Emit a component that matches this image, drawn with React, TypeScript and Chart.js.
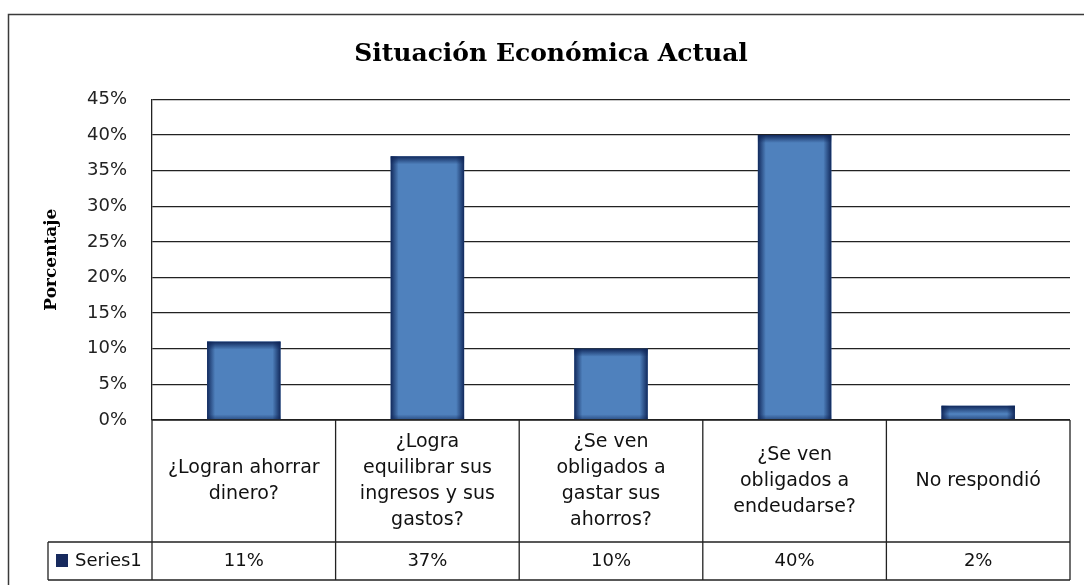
import React, { useEffect, useRef } from "react";
import { Chart, registerables } from "chart.js";

Chart.register(...registerables);

// ---- data ----
const chartTitle = "Situación Económica Actual";
const axisTitle = "Porcentaje";
const seriesName = "Series1";
const categories: string[][] = [
  ["¿Logran ahorrar", "dinero?"],
  ["¿Logra", "equilibrar sus", "ingresos y sus", "gastos?"],
  ["¿Se ven", "obligados a", "gastar sus", "ahorros?"],
  ["¿Se ven", "obligados a", "endeudarse?"],
  ["No respondió"],
];
const values: number[] = [11, 37, 10, 40, 2];
const yMin = 0;
const yMax = 45;
const yStep = 5;

const SANS = "'DejaVu Sans', sans-serif";
const SERIF = "'DejaVu Serif', serif";
const LINE = "#222222";

const framePlugin = {
  id: "outerFrame",
  beforeDraw(chart: any) {
    const ctx = chart.ctx;
    ctx.save();
    ctx.fillStyle = "#ffffff";
    ctx.fillRect(0, 0, chart.width, chart.height);
    ctx.strokeStyle = "#3a3a3a";
    ctx.lineWidth = 1.5;
    ctx.beginPath();
    ctx.moveTo(8.5, chart.height + 10);
    ctx.lineTo(8.5, 14.5);
    ctx.lineTo(chart.width + 10, 14.5);
    ctx.stroke();
    ctx.restore();
  },
};

const barShadePlugin = {
  id: "barShade",
  afterDatasetsDraw(chart: any) {
    const ctx = chart.ctx;
    const meta = chart.getDatasetMeta(0);
    const dark = "14,36,86";
    ctx.save();
    meta.data.forEach((el: any) => {
      const p = el.getProps(["x", "y", "base", "width"], true);
      const left = p.x - p.width / 2;
      const right = p.x + p.width / 2;
      const top = Math.min(p.y, p.base);
      const bottom = Math.max(p.y, p.base);
      const h = bottom - top;
      const g = 8;
      let grd = ctx.createLinearGradient(left, 0, left + g, 0);
      grd.addColorStop(0, `rgba(${dark},0.95)`);
      grd.addColorStop(1, `rgba(${dark},0)`);
      ctx.fillStyle = grd;
      ctx.fillRect(left, top, g, h);
      grd = ctx.createLinearGradient(right, 0, right - g, 0);
      grd.addColorStop(0, `rgba(${dark},0.95)`);
      grd.addColorStop(1, `rgba(${dark},0)`);
      ctx.fillStyle = grd;
      ctx.fillRect(right - g, top, g, h);
      grd = ctx.createLinearGradient(0, top, 0, top + g);
      grd.addColorStop(0, `rgba(${dark},0.95)`);
      grd.addColorStop(1, `rgba(${dark},0)`);
      ctx.fillStyle = grd;
      ctx.fillRect(left, top, p.width, Math.min(g, h));
      grd = ctx.createLinearGradient(0, bottom, 0, bottom - 5);
      grd.addColorStop(0, `rgba(${dark},0.5)`);
      grd.addColorStop(1, `rgba(${dark},0)`);
      ctx.fillStyle = grd;
      ctx.fillRect(left, Math.max(top, bottom - 5), p.width, Math.min(5, h));
    });
    ctx.restore();
  },
};

const dataTablePlugin = {
  id: "dataTable",
  afterDraw(chart: any) {
    const ctx = chart.ctx;
    const area = chart.chartArea;
    const xs = chart.scales.x;
    const n = categories.length;
    const cw = (area.right - area.left) / n;
    const top = area.bottom;
    const mid = top + 122;
    const bottom = top + 160;
    const labelLeft = 48;
    ctx.save();
    ctx.strokeStyle = LINE;
    ctx.lineWidth = 1.3;
    ctx.beginPath();
    // horizontal lines
    ctx.moveTo(area.left, top);
    ctx.lineTo(area.right, top);
    ctx.moveTo(labelLeft, mid);
    ctx.lineTo(area.right, mid);
    ctx.moveTo(labelLeft, bottom);
    ctx.lineTo(area.right, bottom);
    // vertical lines
    ctx.moveTo(labelLeft, mid);
    ctx.lineTo(labelLeft, bottom);
    for (let i = 0; i <= n; i++) {
      const x = area.left + i * cw;
      ctx.moveTo(x, top);
      ctx.lineTo(x, bottom);
    }
    ctx.stroke();

    ctx.fillStyle = "#111111";
    ctx.textAlign = "center";
    ctx.textBaseline = "middle";
    const lh = 26;
    ctx.font = `19px ${SANS}`;
    categories.forEach((lines, i) => {
      const cx = xs.getPixelForValue(i);
      const cy = (top + mid) / 2;
      const y0 = cy - ((lines.length - 1) * lh) / 2;
      lines.forEach((ln, j) => ctx.fillText(ln, cx, y0 + j * lh));
    });
    ctx.font = `18px ${SANS}`;
    const rowY = (mid + bottom) / 2;
    values.forEach((v, i) => {
      ctx.fillText(`${v}%`, xs.getPixelForValue(i), rowY);
    });
    // legend key + series name
    ctx.fillStyle = "#172a5e";
    ctx.fillRect(labelLeft + 8, rowY - 7, 12, 13);
    ctx.fillStyle = "#111111";
    ctx.textAlign = "left";
    ctx.fillText(seriesName, labelLeft + 27, rowY);
    ctx.restore();
  },
};

export default function App() {
  const ref = useRef<HTMLCanvasElement | null>(null);
  useEffect(() => {
    if (!ref.current) return;
    const chart = new Chart(ref.current, {
      type: "bar",
      data: {
        labels: categories,
        datasets: [
          {
            label: seriesName,
            data: values,
            backgroundColor: "#4f81bd",
            borderWidth: 0,
            barPercentage: 0.4,
            categoryPercentage: 1,
          },
        ],
      },
      options: {
        animation: false,
        responsive: false,
        devicePixelRatio: 1,
        layout: { padding: { left: 32, right: 14, top: 0, bottom: 165 } },
        plugins: {
          legend: { display: false },
          tooltip: { enabled: false },
          title: {
            display: true,
            text: chartTitle,
            color: "#000000",
            font: { family: SERIF, size: 25, weight: "bold" },
            padding: { top: 39, bottom: 30.3 },
          },
        },
        scales: {
          x: { display: false },
          y: {
            min: yMin,
            max: yMax,
            ticks: {
              stepSize: yStep,
              padding: 25,
              color: "#222222",
              font: { family: SANS, size: 18 },
              callback: (v: any) => `${v}%`,
            },
            grid: { color: LINE, lineWidth: 1.3, drawTicks: false },
            border: { display: true, color: LINE, width: 1.3 },
            title: {
              display: true,
              text: axisTitle,
              color: "#000000",
              font: { family: SERIF, size: 17, weight: "bold" },
              padding: { top: 9.8, bottom: 0 },
            },
            afterFit: (scale: any) => {
              scale.width = 120;
            },
          },
        },
      },
      plugins: [framePlugin, barShadePlugin, dataTablePlugin],
    });
    return () => chart.destroy();
  }, []);
  return (
    <div style={{ position: "absolute", left: 0, top: 0, width: 1084, height: 585 }}>
      <canvas ref={ref} width={1084} height={585} style={{ width: 1084, height: 585 }} />
    </div>
  );
}
